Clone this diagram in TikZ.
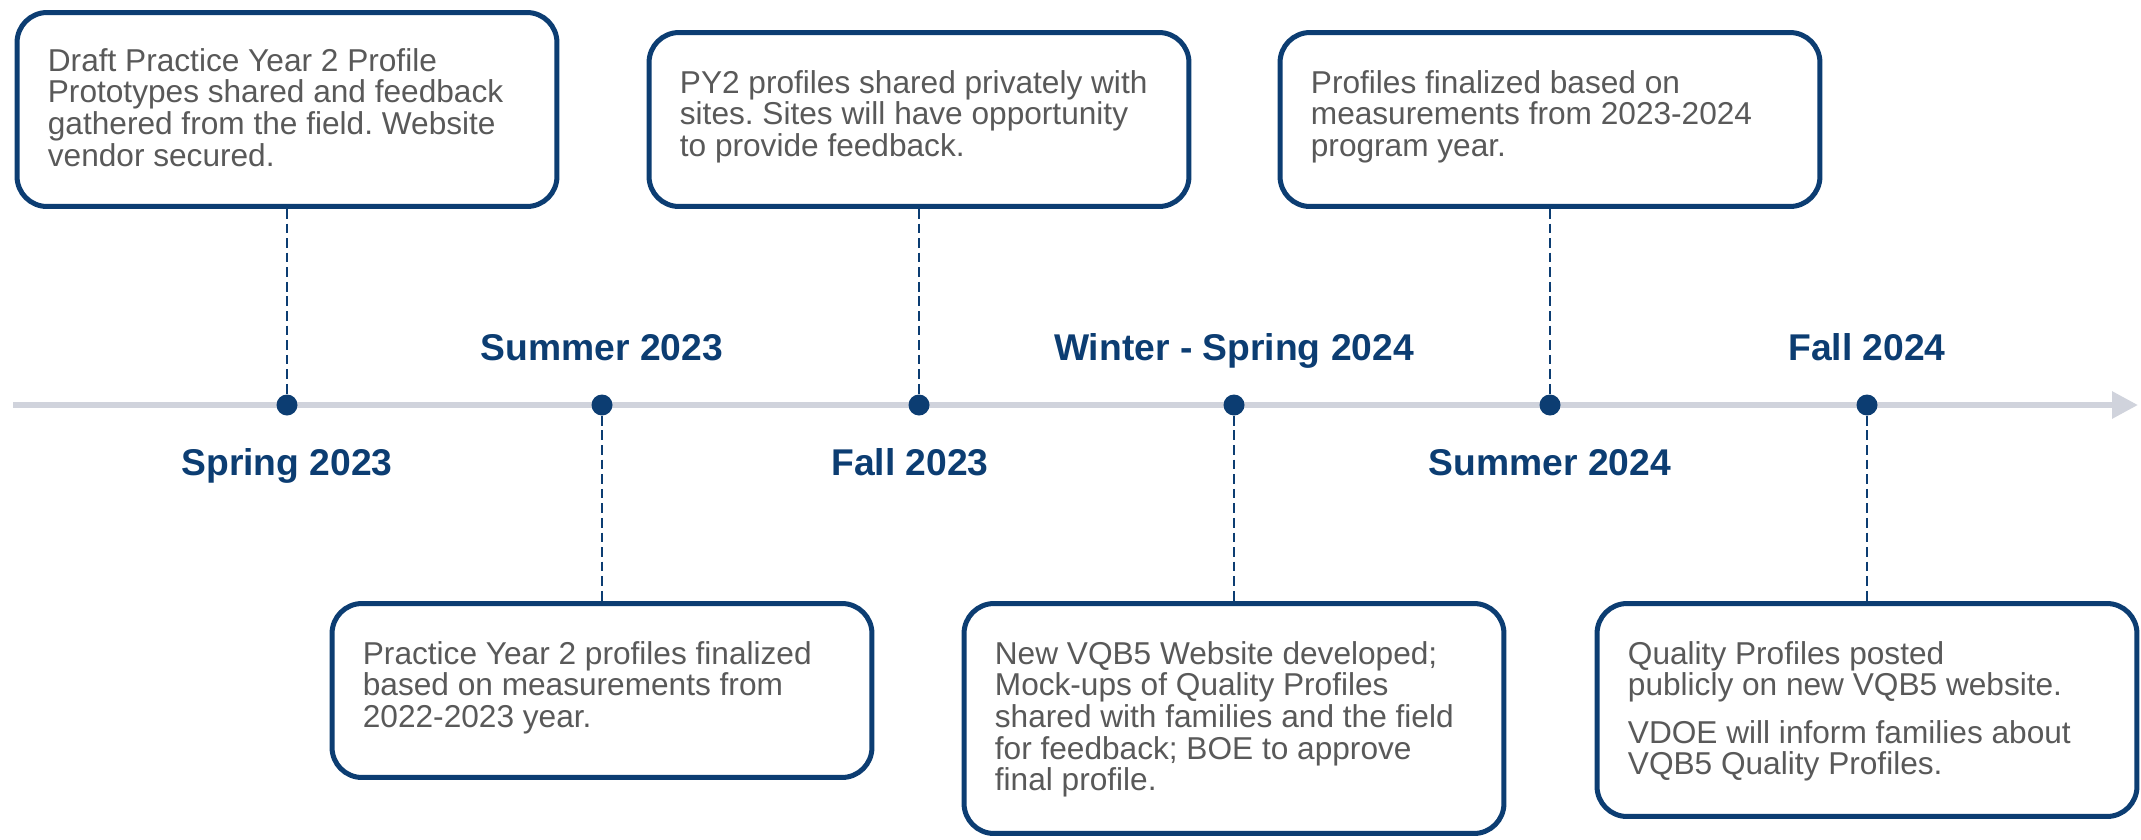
\documentclass[tikz,border=0pt]{standalone}
\usepackage{fontspec}
\setmainfont{Liberation Sans}
\usetikzlibrary{arrows.meta}
\definecolor{navy}{RGB}{12,61,114}
\definecolor{ink}{RGB}{89,89,89}
\definecolor{rail}{RGB}{208,211,220}
\frenchspacing

\tikzset{
		panel/.style={
			draw=navy, line width=2.85pt, rounded corners=0.6cm, fill=white,
			minimum width=10.8cm, inner sep=0pt},
		blurb/.style={
			anchor=north west, inner sep=0pt, text=ink, align=left,
			font=\fontsize{18}{18}\selectfont},
		season/.style={
			anchor=base, text=navy, font=\fontsize{21.2}{24}\selectfont\bfseries},
		milestone/.style={
			circle, minimum size=0.42cm, inner sep=0pt, fill=navy},
		leader/.style={draw, navy, line width=1.1pt, dash pattern=on 5.5pt off 2.8pt},
		axisline/.style={draw, rail, line width=3.4pt, -{Triangle[length=0.52cm,width=0.52cm]}},
	}
\def\ya{405}

\begin{document}
\begin{tikzpicture}[x=0.02cm, y=-0.02cm]
			\useasboundingbox (0,0) rectangle (2141,839);
			\coordinate (start) at (13,\ya);
			\coordinate (end) at (2138,\ya);
			\draw[axisline] (start) -- (end);
			\node[milestone] (m1) at (287,\ya) {};
			\node[milestone] (m2) at (602,\ya) {};
			\node[milestone] (m3) at (919,\ya) {};
			\node[milestone] (m4) at (1234,\ya) {};
			\node[milestone] (m5) at (1550,\ya) {};
			\node[milestone] (m6) at (1867,\ya) {};
			\node[season] (s1) at (287,475) {Spring 2023};
			\node[season] (s2) at (602,360) {Summer 2023};
			\node[season] (s3) at (910,475) {Fall 2023};
			\node[season] (s4) at (1234,360) {Winter - Spring 2024};
			\node[season] (s5) at (1550,475) {Summer 2024};
			\node[season] (s6) at (1867,360) {Fall 2024};
			\node[panel, minimum height=3.88cm] (p1) at (287,109.5) {};
			\node[panel, minimum height=3.48cm] (p2) at (919,119.5) {};
			\node[panel, minimum height=3.48cm] (p3) at (1550,119.5) {};
			\node[panel, minimum height=3.48cm] (p4) at (602,690.5) {};
			\node[panel, minimum height=4.6cm] (p5) at (1234,718.5) {};
			\node[panel, minimum height=4.26cm] (p6) at (1867,710) {};
			\node[blurb] (t1) at ([shift={(33,38)}]p1.north west) {Draft Practice Year 2 Profile\\
				Prototypes shared and feedback\\gathered from the field. Website\\vendor secured.};
			\node[blurb] (t2) at ([shift={(33,40)}]p2.north west) {PY2 profiles shared privately with\\
				sites. Sites will have opportunity\\to provide feedback.};
			\node[blurb] (t3) at ([shift={(33,40)}]p3.north west) {Profiles finalized based on\\
				measurements from 2023-2024\\program year.};
			\node[blurb] (t4) at ([shift={(33,40)}]p4.north west) {Practice Year 2 profiles finalized\\
				based on measurements from\\2022-2023 year.};
			\node[blurb] (t5) at ([shift={(33,40)}]p5.north west) {New VQB5 Website developed;\\
				Mock-ups of Quality Profiles\\shared with families and the field\\for feedback; BOE to approve\\final profile.};
			\node[blurb] (t6) at ([shift={(33,40)}]p6.north west) {Quality Profiles posted\\
				publicly on new VQB5 website.\\[9pt]VDOE will inform families about\\VQB5 Quality Profiles.};
			\draw[leader] (p1) -- (m1); \draw[leader] (p2) -- (m3);
			\draw[leader] (p3) -- (m5);
			\draw[leader] (m2) -- (p4); \draw[leader] (m4) -- (p5);
			\draw[leader] (m6) -- (p6);
			\end{tikzpicture}
\end{document}
